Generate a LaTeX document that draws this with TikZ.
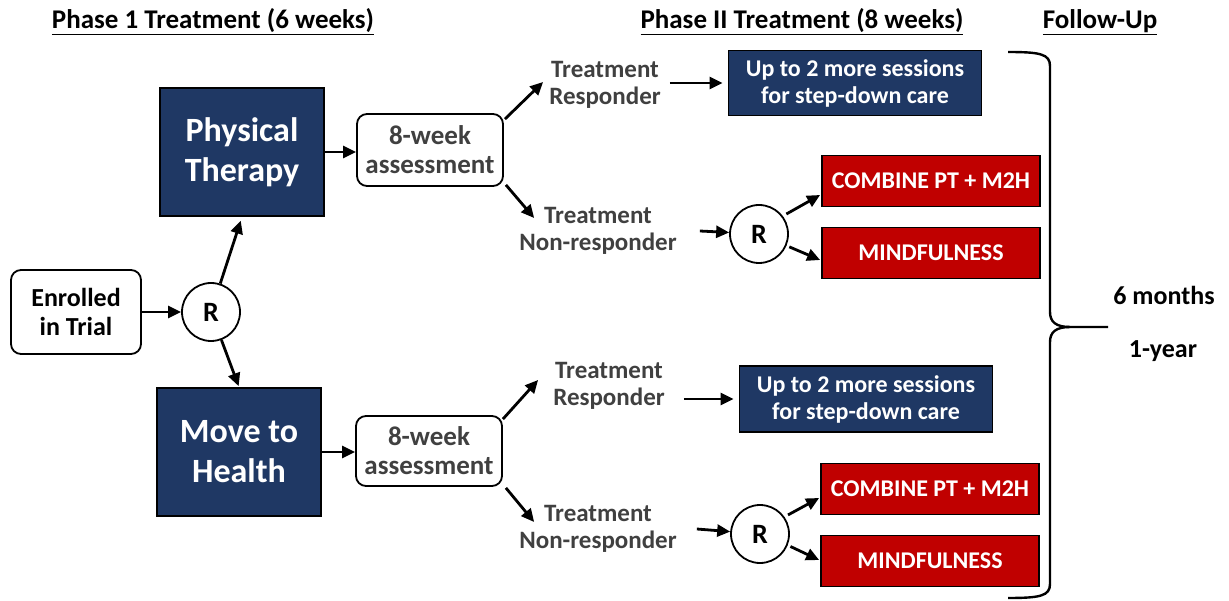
\documentclass[tikz,border=0pt]{standalone}
\usepackage{fontspec}
\setmainfont{Carlito}
\usetikzlibrary{positioning, arrows.meta}
\definecolor{navyfill}{RGB}{31,56,100}
\definecolor{redfill}{RGB}{192,0,0}
\definecolor{labelgray}{RGB}{64,64,64}

\begin{document}
\begin{tikzpicture}[x=1pt, y=-1pt]
        % Definitions
        \def\randD{58}

        % Styles
        \tikzstyle{flow} = [draw, -{Triangle[length=13pt, width=12pt]}, line width=2.8pt, black]
        \tikzstyle{heading} = [inner sep=0pt, font=\fontsize{27}{30}\selectfont\bfseries]
        \tikzstyle{roundbox} = [draw=black, line width=1.8pt, rounded corners=10pt, fill=white, align=center, inner sep=0pt]
        \tikzstyle{darkbox} = [draw=black, line width=1.8pt, fill=navyfill, text=white, align=center, inner sep=0pt]
        \tikzstyle{redbox} = [draw=black, line width=1.8pt, fill=redfill, text=white, align=center, inner sep=0pt, minimum width=218, minimum height=51, font=\fontsize{24}{27}\selectfont\bfseries]
        \tikzstyle{randnode} = [draw=black, line width=1.8pt, circle, fill=white, minimum size=\randD, inner sep=0pt, font=\fontsize{28}{30}\selectfont\bfseries]
        \tikzstyle{outcome} = [align=center, inner sep=0pt, text=labelgray, font=\fontsize{25}{27}\selectfont\bfseries]

        \useasboundingbox (0,0) rectangle (1229,601);

        % Headings
        \node[heading] (hphaseA) at (213,22) {\underline{Phase 1 Treatment (6 weeks)}};
        \node[heading] (hphaseB) at (802,22) {\underline{Phase II Treatment (8 weeks)}};
        \node[heading] (hfollow) at (1100,22) {\underline{Follow-Up}};

        % Phase 1
        \node[roundbox, minimum width=130, minimum height=84, font=\fontsize{26}{29}\selectfont\bfseries] (enrolled) at (76,312) {Enrolled\\in Trial};
        \node[randnode] (rand) at (211,312) {R};
        \node[darkbox, minimum width=164, minimum height=128, font=\fontsize{34}{40}\selectfont\bfseries] (pt) at (242,152) {Physical\\Therapy};
        \node[darkbox, minimum width=164, minimum height=128, font=\fontsize{34}{40}\selectfont\bfseries] (mth) at (239,452) {Move to\\Health};
        \node[roundbox, minimum width=146, minimum height=72, text=labelgray, font=\fontsize{27}{29}\selectfont\bfseries] (assessA) at (430,150) {8-week\\assessment};
        \node[roundbox, minimum width=146, minimum height=70, text=labelgray, font=\fontsize{27}{29}\selectfont\bfseries] (assessB) at (429,451) {8-week\\assessment};

        \draw[flow] (enrolled) -- (rand);
        \draw[flow, shorten >=4pt] (rand) -- (pt.south);
        \draw[flow, shorten >=1pt] (rand) -- (mth.north);
        \draw[flow] (pt.east) -- (pt.east -| assessA.west);
        \draw[flow] (mth.east) -- (mth.east -| assessB.west);

        % Phase II, upper arm
        \node[outcome] (respA) at (605,85) {Treatment\\Responder};
        \node[outcome] (nonrespA) at (598,231) {Treatment\\Non-responder};
        \node[darkbox, minimum width=253, minimum height=65, font=\fontsize{24}{27}\selectfont\bfseries] (stepA) at (855,83) {Up to 2 more sessions\\for step-down care};
        \node[randnode] (randA) at (759,234) {R};
        \node[redbox] (combA) at (931,181) {COMBINE PT + M2H};
        \node[redbox] (mindA) at (931,253) {MINDFULNESS};

        \draw[flow] ([shift={(1,6)}]assessA.north east) -- ([shift={(-6,-3)}]respA.west);
        \draw[flow] ([shift={(2,-2)}]assessA.south east) -- ([shift={(15,-13)}]nonrespA.west);
        \draw[flow] ([xshift=9]respA.east |- stepA.west) -- ([xshift=-5]stepA.west);
        \draw[flow] ([xshift=23]nonrespA.east) -- (randA);
        \draw[flow, shorten <=4pt] (randA.37) -- ([shift={(-1,14)}]combA.west);
        \draw[flow, shorten <=3pt] (randA.-23) -- ([shift={(-1,7)}]mindA.west);

        % Phase II, lower arm
        \node[outcome] (respB) at (609,386) {Treatment\\Responder};
        \node[outcome] (nonrespB) at (598,529) {Treatment\\Non-responder};
        \node[darkbox, minimum width=253, minimum height=66, font=\fontsize{24}{27}\selectfont\bfseries] (stepB) at (866,399) {Up to 2 more sessions\\for step-down care};
        \node[randnode] (randB) at (760,534) {R};
        \node[redbox] (combB) at (930,489) {COMBINE PT + M2H};
        \node[redbox] (mindB) at (930,561) {MINDFULNESS};

        \draw[flow] ([shift={(0,4)}]assessB.north east) -- ([shift={(-15,-6)}]respB.west);
        \draw[flow] ([shift={(3,1)}]assessB.south east) -- ([shift={(15,-7)}]nonrespB.west);
        \draw[flow] ([xshift=19]respB.east |- stepB.west) -- ([xshift=-5]stepB.west);
        \draw[flow] ([xshift=20]nonrespB.east) -- (randB);
        \draw[flow, shorten <=4pt] (randB.35) -- ([shift={(-1,9)}]combB.west);
        \draw[flow, shorten <=3pt] (randB.-22) -- ([shift={(-1,-1)}]mindB.west);

        % Follow-up brace
        \coordinate (bracetip) at (1108,327);
        \draw[line width=2.4pt] (1008,52) .. controls (1040,52) and (1050,54) .. (1050,66) -- (1050,312)
            .. controls (1050,322) and (1056,327) .. (1070,327) -- (bracetip);
        \draw[line width=2.4pt] (1070,327) .. controls (1056,327) and (1050,332) .. (1050,342) -- (1050,584)
            .. controls (1050,596) and (1040,598) .. (1008,598);
        \node[heading, font=\fontsize{26}{29}\selectfont\bfseries] (sixmonths) at (1164,295) {6 months};
        \node[heading, font=\fontsize{26}{29}\selectfont\bfseries] (oneyear) at (1163,351) {1-year};

    \end{tikzpicture}
\end{document}
